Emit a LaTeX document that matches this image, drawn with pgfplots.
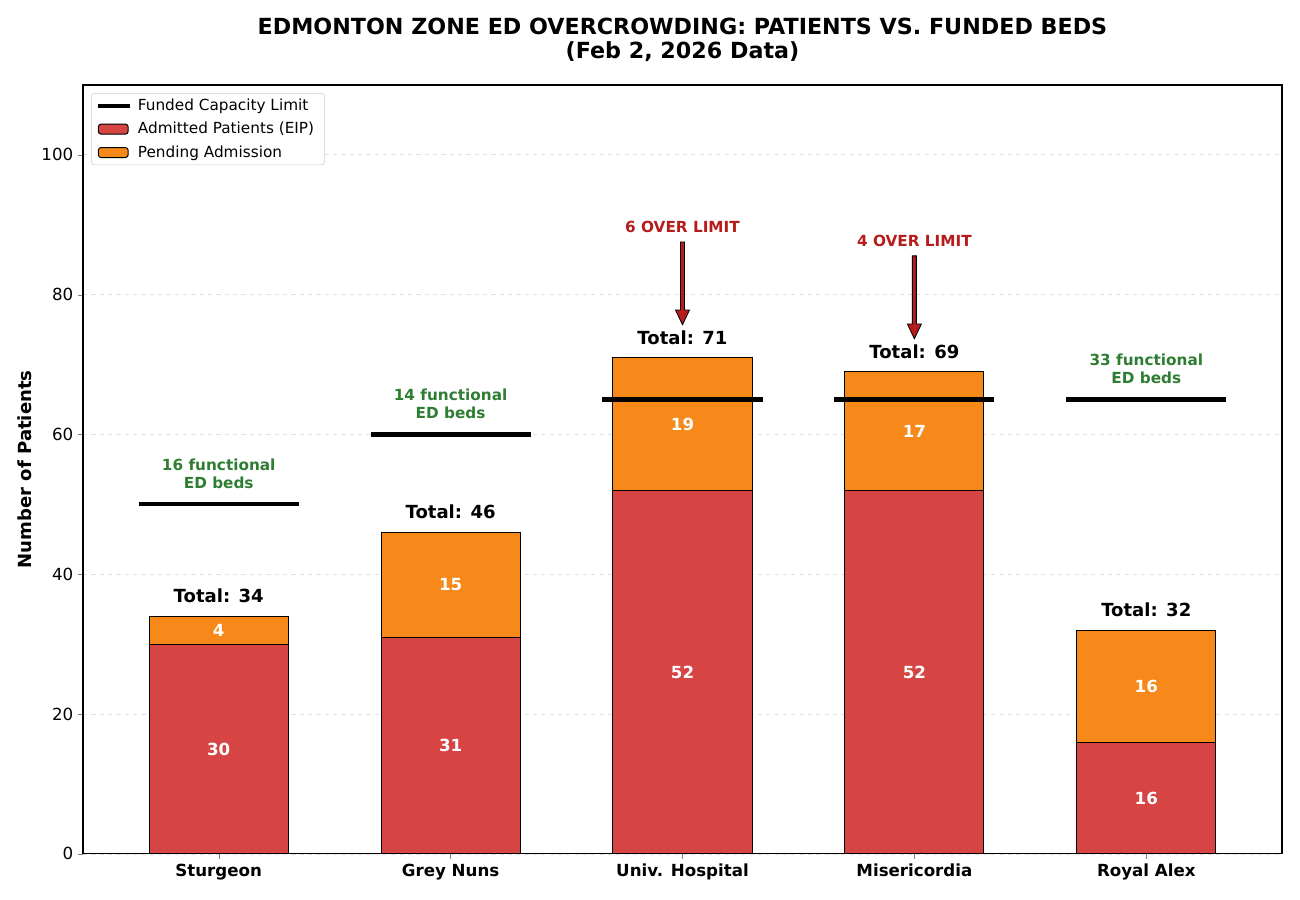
\documentclass[border=0pt]{standalone}
\usepackage{fontspec}
\setmainfont{DejaVu Sans}
\usepackage{pgfplots}
\pgfplotsset{compat=1.18}
\definecolor{admred}{RGB}{215,68,68}
\definecolor{pendorange}{RGB}{246,137,26}
\definecolor{bedgreen}{RGB}{46,125,50}
\definecolor{overred}{RGB}{183,28,28}

\begin{document}
\begin{tikzpicture}
\begin{axis}[
    scale only axis,
    width=863.3pt, height=553.7pt,
    xmin=-0.585, xmax=4.585,
    ymin=0, ymax=110,
    xtick={0,1,2,3,4},
    xticklabels={Sturgeon, Grey Nuns, Univ. Hospital, Misericordia, Royal Alex},
    xticklabel style={font=\bfseries\fontsize{12}{14}\selectfont},
    ytick={0,20,40,60,80,100},
    yticklabel style={font=\fontsize{12}{14}\selectfont},
    /pgf/number format/assume math mode=true,
    ylabel={Number of Patients},
    ylabel style={font=\bfseries\fontsize{13}{15}\selectfont},
    tick align=outside, tick pos=left,
    major tick length=3.5pt,
    axis line style={line width=0.8pt},
    ymajorgrids,
    grid style={dashed, black!12, line width=0.6pt},
    title={EDMONTON ZONE ED OVERCROWDING: PATIENTS VS. FUNDED BEDS\\(Feb 2, 2026 Data)},
    title style={align=center, font=\bfseries\fontsize{16}{17}\selectfont, at={(0.5,1)}, anchor=south, yshift=7.5pt},
    legend style={at={(0,1)}, anchor=north west, xshift=5.8pt, yshift=-5.8pt,
        font=\fontsize{11}{13}\selectfont, draw=black!20, rounded corners=2pt,
        row sep=3pt, inner xsep=3pt, nodes={inner xsep=4.5pt}},
    legend cell align=left,
]
% legend handles
\addlegendimage{legend image code/.code={\draw[black, line width=3pt] (0pt,0pt) -- (23pt,0pt);}}
\addlegendentry{Funded Capacity Limit}
\addlegendimage{legend image code/.code={\draw[fill=admred, draw=black, line width=0.7pt] (0.5pt,-3.6pt) rectangle (22pt,3.6pt);}}
\addlegendentry{Admitted Patients (EIP)}
\addlegendimage{legend image code/.code={\draw[fill=pendorange, draw=black, line width=0.7pt] (0.5pt,-3.6pt) rectangle (22pt,3.6pt);}}
\addlegendentry{Pending Admission}

% totals (pending on top of admitted)
\addplot[ybar, bar width=0.6, bar shift=0pt, fill=pendorange, draw=black, line width=0.7pt, forget plot]
    coordinates {(0,34) (1,46) (2,71) (3,69) (4,32)};
% admitted
\addplot[ybar, bar width=0.6, bar shift=0pt, fill=admred, draw=black, line width=0.7pt, forget plot]
    coordinates {(0,30) (1,31) (2,52) (3,52) (4,16)};

% funded capacity lines
\addplot[black, line width=3pt, forget plot] coordinates {(-0.345,50) (0.345,50)};
\addplot[black, line width=3pt, forget plot] coordinates {(0.655,60) (1.345,60)};
\addplot[black, line width=3pt, forget plot] coordinates {(1.655,65) (2.345,65)};
\addplot[black, line width=3pt, forget plot] coordinates {(2.655,65) (3.345,65)};
\addplot[black, line width=3pt, forget plot] coordinates {(3.655,65) (4.345,65)};

% segment labels
\addplot[only marks, mark=none, forget plot, nodes near coords, point meta=explicit symbolic,
    nodes near coords style={white, anchor=center, font=\bfseries\fontsize{12}{14}\selectfont}]
    coordinates {(0,15)[30] (1,15.5)[31] (2,26)[52] (3,26)[52] (4,8)[16]
                 (0,32)[4] (1,38.5)[15] (2,61.5)[19] (3,60.5)[17] (4,24)[16]};

% totals
\addplot[only marks, mark=none, forget plot, nodes near coords, point meta=explicit symbolic,
    nodes near coords style={black, anchor=center, font=\bfseries\fontsize{13}{15}\selectfont}]
    coordinates {(0,36.9)[Total: 34] (1,48.9)[Total: 46] (2,73.9)[Total: 71] (3,71.9)[Total: 69] (4,34.9)[Total: 32]};

% functional bed notes
\addplot[only marks, mark=none, forget plot, nodes near coords, point meta=explicit symbolic,
    nodes near coords style={bedgreen, anchor=center, align=center, font=\bfseries\fontsize{11}{13}\selectfont}]
    coordinates {(0,54.4)[16 functional\\ED beds] (1,64.4)[14 functional\\ED beds] (4,69.4)[33 functional\\ED beds]};

% over-limit notes
\addplot[only marks, mark=none, forget plot, nodes near coords, point meta=explicit symbolic,
    nodes near coords style={overred, anchor=center, font=\bfseries\fontsize{11}{13}\selectfont}]
    coordinates {(2,89.7)[6 OVER LIMIT] (3,87.7)[4 OVER LIMIT]};

% arrows
\addplot[fill=overred, draw=black, line width=0.6pt, forget plot]
    coordinates {(1.9914,87.55) (2.0086,87.55) (2.0086,77.8) (2.03,77.8) (2,75.7) (1.97,77.8) (1.9914,77.8)} -- cycle;
\addplot[fill=overred, draw=black, line width=0.6pt, forget plot]
    coordinates {(2.9914,85.55) (3.0086,85.55) (3.0086,75.8) (3.03,75.8) (3,73.7) (2.97,75.8) (2.9914,75.8)} -- cycle;
\end{axis}
\pgfresetboundingbox
\path[use as bounding box] ([shift={(-59.8pt,-33.1pt)}]current axis.south west) rectangle ([shift={(13pt,61.2pt)}]current axis.north east);
\end{tikzpicture}
\end{document}
